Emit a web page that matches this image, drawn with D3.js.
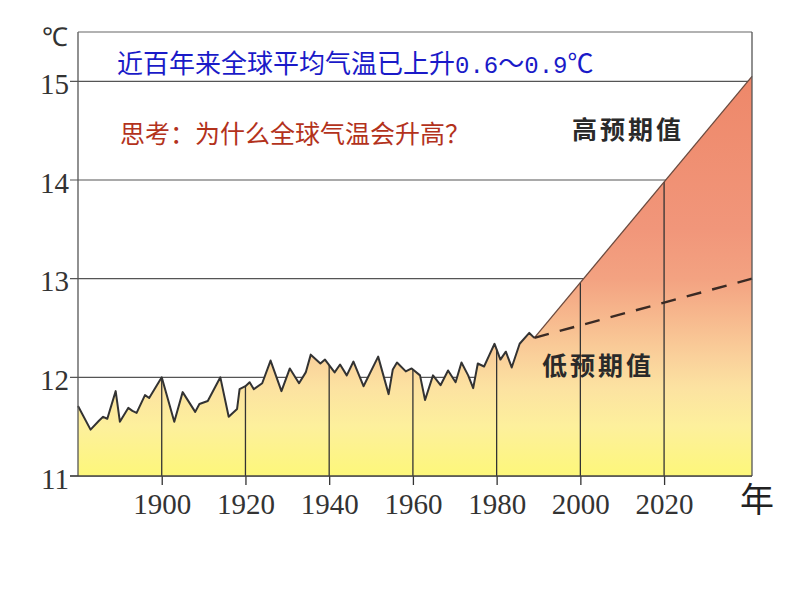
<!DOCTYPE html>
<html><head><meta charset="utf-8">
<script src="https://cdn.jsdelivr.net/npm/d3@7"></script>
<style>body{margin:0;background:#fff}</style>
</head><body>
<svg id="c" width="794" height="596"></svg>
<script>
// Observed annual mean temperature (°C)
const years = [1880,1883,1885,1886,1887,1889,1890,1892,1893,1894,1896,1897,1900,1903,1905,1908,1909,1911,1914,1916,1918,1918.6,1920,1921,1922,1924,1926,1928.6,1930.6,1932.8,1934.4,1935.6,1937.9,1939,1941.3,1942.6,1944.2,1945.8,1948.2,1951.7,1954.2,1955.2,1956.2,1958.3,1959.7,1961.7,1962.9,1964.8,1966.6,1968.4,1970.2,1971.6,1973.2,1974.4,1975.5,1977,1978.3,1979.5,1980.9,1982.2,1983.6,1985.5,1987.8,1989];
const temps = [11.71,11.47,11.56,11.60,11.58,11.86,11.55,11.69,11.66,11.64,11.82,11.79,12.00,11.55,11.85,11.65,11.73,11.76,12.00,11.60,11.68,11.88,11.91,11.95,11.88,11.94,12.17,11.86,12.09,11.94,12.05,12.23,12.14,12.18,12.05,12.13,12.02,12.16,11.91,12.21,11.83,12.08,12.15,12.06,12.09,12.02,11.77,12.02,11.92,12.07,11.95,12.15,12.02,11.89,12.14,12.11,12.23,12.34,12.18,12.26,12.10,12.34,12.45,12.40];
// Projections
const projYears = [1989, 2041];
const highValues = [12.40, 15.05];
const lowValues = [12.40, 13.00];
// Ticks
const yTicks = [11,12,13,14,15];
const xTicks = [1900,1920,1940,1960,1980,2000,2020];
const title1 = ["近百年来全球平均气温已上升","0.6","～","0.9","℃"];
const title2 = "思考：为什么全球气温会升高？";
const highLabel = "高预期值", lowLabel = "低预期值";
const yUnit = "℃", xUnit = "年";

const svg = d3.select("#c");
const x = d3.scaleLinear([1880, 2041], [78, 752]);
const y = d3.scaleLinear([11, 15.5], [476, 32]);

// gradient
const defs = svg.append("defs");
const grad = defs.append("linearGradient").attr("id","g").attr("gradientUnits","userSpaceOnUse")
  .attr("x1",0).attr("x2",0).attr("y1",y(15)).attr("y2",y(11));
[[15,"#ee886a"],[13.5,"#f1967a"],[13,"#f3a281"],[12.6,"#f7b98e"],[12.2,"#fad19b"],[11.9,"#fce2a1"],[11.5,"#fdf09c"],[11,"#fdf77a"]]
 .forEach(([v,c])=>grad.append("stop").attr("offset",(15-v)/4).attr("stop-color",c));

// gridlines
svg.append("g").selectAll("line").data(yTicks).join("line")
  .attr("x1",70).attr("x2",752).attr("y1",d=>y(d)).attr("y2",d=>y(d))
  .attr("stroke","#555").attr("stroke-width",1.2);

// area
const pts = years.map((yr,i)=>[yr,temps[i]]).concat([[projYears[1],highValues[1]]]);
const area = d3.area().x(d=>x(d[0])).y0(y(11)).y1(d=>y(d[1]));
svg.append("path").datum(pts).attr("d",area).attr("fill","url(#g)");

// top value of fill at year
function topAt(yr){
  if (yr >= projYears[0]) return highValues[0] + (highValues[1]-highValues[0])*(yr-projYears[0])/(projYears[1]-projYears[0]);
  for (let i=1;i<years.length;i++){ if (years[i]>=yr){ const t=(yr-years[i-1])/(years[i]-years[i-1]); return temps[i-1]+t*(temps[i]-temps[i-1]); } }
  return temps[temps.length-1];
}

// vertical lines
svg.append("g").selectAll("line").data(xTicks).join("line")
  .attr("x1",d=>x(d)).attr("x2",d=>x(d)).attr("y1",y(11)).attr("y2",d=>y(topAt(d)))
  .attr("stroke","#333").attr("stroke-width",1.3);

// x axis
const xa = svg.append("g").attr("transform",`translate(0,${y(11)})`)
  .call(d3.axisBottom(x).tickValues(xTicks).tickFormat(d3.format("d")).tickSize(9).tickPadding(8));
xa.select(".domain").remove();
xa.selectAll("line").attr("stroke","#333").attr("stroke-width",1.3);
xa.selectAll("text").attr("font-family","Liberation Serif, serif").attr("font-size",29).attr("fill","#333");

// y axis labels
const ya = svg.append("g").attr("transform","translate(69,0)")
  .call(d3.axisLeft(y).tickValues(yTicks).tickFormat(d3.format("d")).tickSize(0).tickPadding(0));
ya.select(".domain").remove();
ya.selectAll("text").attr("font-family","Liberation Serif, serif").attr("font-size",29).attr("fill","#333").attr("dy","0.42em");

// data line
const line = d3.line().x(d=>x(d[0])).y(d=>y(d[1]));
svg.append("path").datum(years.map((yr,i)=>[yr,temps[i]])).attr("d",line)
  .attr("fill","none").attr("stroke","#333").attr("stroke-width",2).attr("stroke-linejoin","round");
// high projection
svg.append("path").datum(projYears.map((yr,i)=>[yr,highValues[i]])).attr("d",line)
  .attr("fill","none").attr("stroke","#6b4a3e").attr("stroke-width",1.3);
// low projection (dashed, both ends dashes)
const low = svg.append("path").datum(projYears.map((yr,i)=>[yr,lowValues[i]])).attr("d",line)
  .attr("fill","none").attr("stroke","#3a2a24").attr("stroke-width",2.4);
const L = low.node().getTotalLength(), dash = 15;
const n = Math.round((L - dash) / 25);
low.attr("stroke-dasharray", `${dash},${(L - (n + 1) * dash) / n}`);

// frame
svg.append("line").attr("x1",78).attr("x2",78).attr("y1",32).attr("y2",y(11)).attr("stroke","#555").attr("stroke-width",1.3);
svg.append("line").attr("x1",78).attr("x2",752).attr("y1",32).attr("y2",32).attr("stroke","#666").attr("stroke-width",1.2);
svg.append("line").attr("x1",752).attr("x2",752).attr("y1",32).attr("y2",y(11)).attr("stroke","#555").attr("stroke-width",1.3);
svg.append("line").attr("x1",70).attr("x2",752).attr("y1",y(11)).attr("y2",y(11)).attr("stroke","#444").attr("stroke-width",1.4);

// texts
const cjk = "Noto Sans CJK SC, sans-serif";
const t1 = svg.append("text").attr("x",117).attr("y",73).attr("fill","#1a1ac8").attr("font-size",26).attr("font-family",cjk);
title1.forEach((s,i)=>{
  const ts = t1.append("tspan").text(s);
  if (s==="0.6"||s==="0.9") ts.attr("font-family","Liberation Mono, monospace").attr("font-size",24);
});
svg.append("text").attr("x",120).attr("y",143).attr("fill","#b3321c").attr("font-size",25).attr("font-family",cjk).text(title2);
svg.append("text").attr("x",572).attr("y",139).attr("fill","#2a2a2a").attr("font-size",25).attr("font-weight","bold").attr("letter-spacing",3).attr("font-family",cjk).text(highLabel);
svg.append("text").attr("x",542).attr("y",375).attr("fill","#2a2a2a").attr("font-size",25).attr("font-weight","bold").attr("letter-spacing",3).attr("font-family",cjk).text(lowLabel);
svg.append("text").attr("x",55).attr("y",46).attr("text-anchor","middle").attr("fill","#333").attr("font-size",26).attr("font-family","Liberation Serif, serif").text(yUnit);
svg.append("text").attr("x",740).attr("y",512).attr("fill","#222").attr("font-size",34).attr("font-family",cjk).text(xUnit);
</script>
</body></html>
